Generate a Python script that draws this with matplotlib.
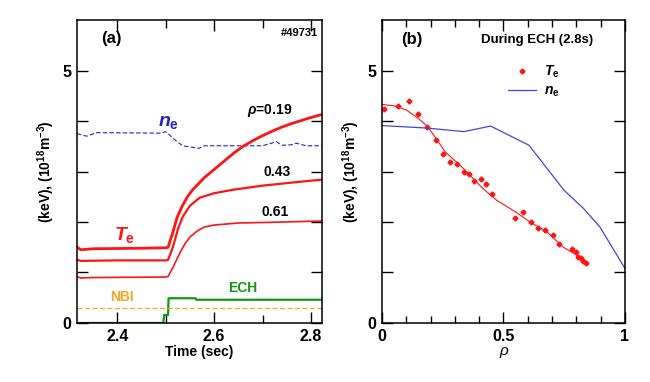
import numpy as np
import matplotlib
matplotlib.use("Agg")
import matplotlib.pyplot as plt
from matplotlib.ticker import MultipleLocator, FixedLocator

plt.rcParams['font.family'] = ['Liberation Sans', 'DejaVu Sans']
plt.rcParams['font.weight'] = 'bold'
plt.rcParams['mathtext.fontset'] = 'custom'
plt.rcParams['mathtext.rm'] = 'Liberation Sans:bold'
plt.rcParams['mathtext.it'] = 'Liberation Sans:bold:italic'
plt.rcParams['mathtext.bf'] = 'Liberation Sans:bold'

# ---- panel (a): time traces ----
t_ne = [2.317, 2.337, 2.358, 2.49, 2.50, 2.52, 2.535, 2.569, 2.58, 2.70, 2.729, 2.74, 2.76, 2.77, 2.79, 2.823]
ne_t = [3.75, 3.70, 3.77, 3.76, 3.79, 3.62, 3.51, 3.46, 3.51, 3.51, 3.59, 3.52, 3.53, 3.56, 3.51, 3.51]

t_019 = [2.317, 2.325, 2.35, 2.45, 2.50, 2.505, 2.515, 2.524, 2.535, 2.545, 2.555, 2.58, 2.60,
         2.62, 2.64, 2.66, 2.68, 2.70, 2.72, 2.74, 2.76, 2.78, 2.80, 2.823]
te_019 = [1.50, 1.45, 1.47, 1.48, 1.49, 1.50, 1.80, 2.10, 2.33, 2.50, 2.63, 2.88, 3.04,
          3.20, 3.36, 3.50, 3.61, 3.71, 3.80, 3.88, 3.95, 4.01, 4.07, 4.13]

t_043 = [2.317, 2.325, 2.40, 2.50, 2.505, 2.515, 2.525, 2.535, 2.55, 2.57, 2.60, 2.64, 2.70, 2.76, 2.823]
te_043 = [1.25, 1.23, 1.24, 1.24, 1.25, 1.50, 1.85, 2.10, 2.32, 2.48, 2.57, 2.64, 2.72, 2.78, 2.84]

t_061 = [2.317, 2.325, 2.35, 2.50, 2.505, 2.515, 2.53, 2.54, 2.55, 2.565, 2.58, 2.60, 2.65, 2.70, 2.823]
te_061 = [0.92, 0.89, 0.90, 0.91, 0.92, 1.10, 1.40, 1.57, 1.70, 1.82, 1.90, 1.94, 1.98, 1.99, 2.02]

t_ech = [2.317, 2.495, 2.497, 2.505, 2.506, 2.562, 2.563, 2.823]
ech = [0.0, 0.0, 0.16, 0.16, 0.49, 0.49, 0.46, 0.46]

nbi_level = 0.29

# ---- panel (b): radial profiles at 2.8 s ----
rho_pts = [0.01, 0.065, 0.111, 0.15, 0.187, 0.222, 0.252, 0.28, 0.31, 0.337, 0.36, 0.38, 0.407, 0.427,
           0.451, 0.547, 0.579, 0.612, 0.643, 0.671, 0.702, 0.73, 0.783, 0.797, 0.808, 0.818, 0.829, 0.84]
te_pts = [4.24, 4.30, 4.39, 4.14, 3.89, 3.62, 3.35, 3.18, 3.14, 2.99, 2.96, 2.81, 2.85, 2.75,
          2.56, 2.08, 2.20, 2.00, 1.88, 1.84, 1.74, 1.57, 1.46, 1.40, 1.31, 1.29, 1.23, 1.18]

rho_fit = [0.0, 0.05, 0.1, 0.15, 0.19, 0.26, 0.335, 0.416, 0.472, 0.55, 0.609, 0.68, 0.746, 0.8, 0.842]
te_fit = [4.33, 4.30, 4.22, 4.05, 3.88, 3.39, 3.06, 2.66, 2.43, 2.20, 2.00, 1.80, 1.50, 1.35, 1.15]

rho_ne = [0.0, 0.187, 0.337, 0.447, 0.605, 0.749, 0.829, 0.897, 1.0]
ne_r = [3.91, 3.86, 3.79, 3.90, 3.52, 2.63, 2.27, 1.90, 1.08]

ylab = r'(keV), (10$^{18}$m$^{-3}$)'

fig = plt.figure(figsize=(6.5, 3.82), dpi=100)
ax1 = fig.add_axes([0.1185, 0.1545, 0.377, 0.793])
ax2 = fig.add_axes([0.5877, 0.1545, 0.3738, 0.793])

red = '#ff1414'
ax1.plot(t_ne, ne_t, color='#2222cc', lw=0.8, ls=(0, (4, 2)))
ax1.plot(t_019, te_019, color=red, lw=2.0)
ax1.plot(t_043, te_043, color=red, lw=1.6)
ax1.plot(t_061, te_061, color=red, lw=1.2)
ax1.plot(t_ech, ech, color='#119911', lw=1.6)
ax1.axhline(nbi_level, color='#f5a623', lw=0.9, ls=(0, (4, 2)))

ax1.set_xlim(2.317, 2.823)
ax1.set_ylim(0, 6)
ax1.xaxis.set_major_locator(FixedLocator([2.4, 2.6, 2.8]))
ax1.xaxis.set_minor_locator(FixedLocator([2.5, 2.7]))
ax1.set_xticklabels(['2.4', '2.6', '2.8'])
ax1.set_xlabel('Time (sec)', fontsize=10, fontweight='bold', labelpad=1)

ax1.text(0.10, 0.965, '(a)', transform=ax1.transAxes, fontsize=12, fontweight='bold', va='top')
ax1.text(0.985, 0.975, '#49731', transform=ax1.transAxes, fontsize=8, fontweight='bold', ha='right', va='top')
ax1.text(2.715, 4.2, r'$\rho$=0.19', fontsize=10, fontweight='bold', va='center', ha='center')
ax1.text(2.73, 2.99, '0.43', fontsize=10, fontweight='bold', va='center', ha='center')
ax1.text(2.726, 2.2, '0.61', fontsize=10, fontweight='bold', va='center', ha='center')
ax1.text(2.415, 1.75, r'$T_{\rm e}$', fontsize=14, color=red, ha='center', va='center')
ax1.text(2.505, 3.98, r'$n_{\rm e}$', fontsize=14, color='#2222cc', ha='center', va='center')
ax1.text(2.41, 0.52, 'NBI', fontsize=10, color='#f5a623', fontweight='bold', ha='center', va='center')
ax1.text(2.66, 0.70, 'ECH', fontsize=10, color='#119911', fontweight='bold', ha='center', va='center')

ax2.plot(rho_fit, te_fit, color=red, lw=0.8)
ax2.plot(rho_pts, te_pts, ls='none', marker='P', ms=3.2, color=red, mec=red, label=r'$T_{\rm e}$')
ax2.plot(rho_ne, ne_r, color='#4444dd', lw=0.9, label=r'$n_{\rm e}$')
ax2.set_xlim(0, 1)
ax2.set_ylim(0, 6)
ax2.xaxis.set_major_locator(FixedLocator([0, 0.5, 1]))
ax2.xaxis.set_minor_locator(MultipleLocator(0.1))
ax2.set_xticklabels(['0', '0.5', '1'])
ax2.set_xlabel('ρ', fontsize=11, fontweight='normal', style='italic', labelpad=0)
ax2.text(0.08, 0.96, '(b)', transform=ax2.transAxes, fontsize=12, fontweight='bold', va='top')
ax2.text(0.64, 0.955, 'During ECH (2.8s)', transform=ax2.transAxes, fontsize=9.5, fontweight='bold',
         ha='center', va='top')
ax2.legend(loc='upper right', bbox_to_anchor=(0.755, 0.875), frameon=False, fontsize=10,
           handlelength=2.0, handletextpad=0.6, borderaxespad=0, labelspacing=0.3)

for ax in (ax1, ax2):
    ax.yaxis.set_major_locator(FixedLocator([0, 1, 2, 3, 4, 5]))
    ax.set_yticklabels(['0', '', '', '', '', '5'])
    ax.set_ylabel(ylab, fontsize=10, fontweight='bold', labelpad=4)
    ax.tick_params(which='both', direction='in', top=True, right=True, width=1.0, labelsize=11.5, pad=4)
    ax.tick_params(which='major', length=8)
    ax.tick_params(which='minor', length=5)
    for s in ax.spines.values():
        s.set_linewidth(1.1)
ax1.tick_params(axis='x', which='minor', length=6)

fig.savefig('out.png', dpi=100)
